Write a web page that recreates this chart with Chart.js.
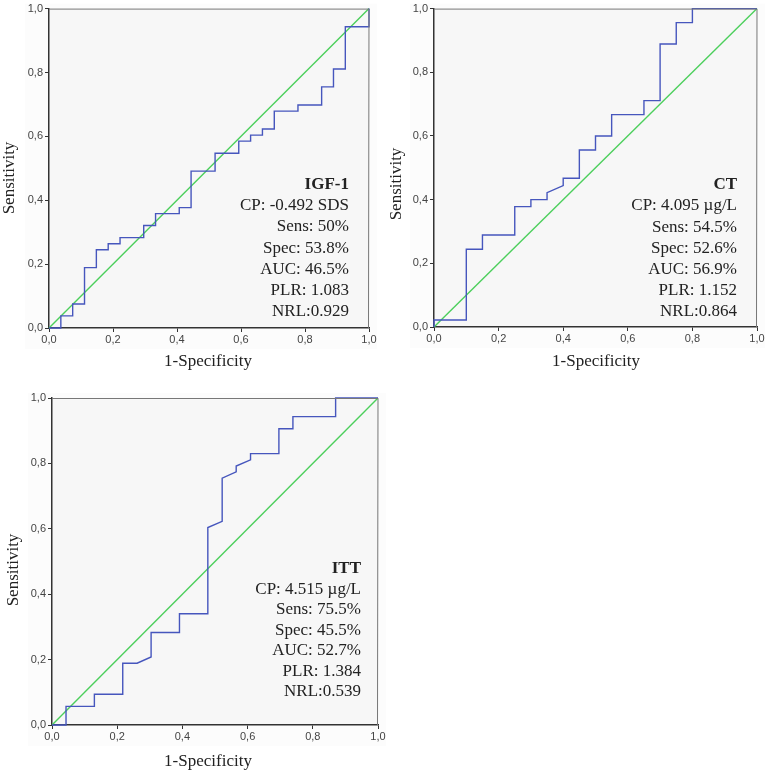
<!DOCTYPE html>
<html>
<head>
<meta charset="utf-8">
<script src="https://cdn.jsdelivr.net/npm/chart.js@4"></script>
<style>
  body { margin: 0; background: #fff; }
  #wrap { position: relative; width: 767px; height: 775px; }
  canvas { position: absolute; }
</style>
</head>
<body>
<div id="wrap">
  <canvas id="c1" style="left:0;top:0"></canvas>
  <canvas id="c2" style="left:385px;top:0"></canvas>
  <canvas id="c3" style="left:0;top:375px"></canvas>
</div>
<script>
// ROC curves, corner points (1-Specificity, Sensitivity)
const igfX = [0, 0.037, 0.037, 0.074, 0.074, 0.111, 0.111, 0.148, 0.148, 0.185, 0.185, 0.222, 0.222, 0.296, 0.296, 0.333, 0.333, 0.407, 0.407, 0.444, 0.444, 0.519, 0.519, 0.593, 0.593, 0.630, 0.630, 0.667, 0.667, 0.704, 0.704, 0.778, 0.778, 0.852, 0.852, 0.889, 0.889, 0.926, 0.926, 1, 1];
const igfY = [0, 0, 0.038, 0.038, 0.075, 0.075, 0.189, 0.189, 0.245, 0.245, 0.264, 0.264, 0.283, 0.283, 0.321, 0.321, 0.358, 0.358, 0.377, 0.377, 0.491, 0.491, 0.547, 0.547, 0.585, 0.585, 0.604, 0.604, 0.623, 0.623, 0.679, 0.679, 0.698, 0.698, 0.755, 0.755, 0.811, 0.811, 0.943, 0.943, 1];

const ctX = [0, 0, 0.1, 0.1, 0.15, 0.15, 0.25, 0.25, 0.3, 0.3, 0.35, 0.35, 0.4, 0.4, 0.45, 0.45, 0.5, 0.5, 0.55, 0.55, 0.65, 0.65, 0.7, 0.7, 0.75, 0.75, 0.8, 0.8, 1];
const ctY = [0, 0.022, 0.022, 0.244, 0.244, 0.289, 0.289, 0.378, 0.378, 0.4, 0.4, 0.422, 0.444, 0.467, 0.467, 0.556, 0.556, 0.6, 0.6, 0.667, 0.667, 0.711, 0.711, 0.889, 0.889, 0.956, 0.956, 1, 1];

const ittX = [0, 0.043, 0.043, 0.130, 0.130, 0.217, 0.217, 0.261, 0.304, 0.304, 0.391, 0.391, 0.478, 0.478, 0.522, 0.522, 0.565, 0.565, 0.609, 0.609, 0.696, 0.696, 0.739, 0.739, 0.870, 0.870, 1];
const ittY = [0, 0, 0.057, 0.057, 0.094, 0.094, 0.189, 0.189, 0.208, 0.283, 0.283, 0.340, 0.340, 0.604, 0.623, 0.755, 0.774, 0.792, 0.811, 0.830, 0.830, 0.906, 0.906, 0.943, 0.943, 1, 1];

// reference diagonal
const refX = [0, 1];
const refY = [0, 1];

const tickLabels = ["0,0", "0,2", "0,4", "0,6", "0,8", "1,0"];

const igfText = ["IGF-1", "CP: -0.492 SDS", "Sens: 50%", "Spec: 53.8%", "AUC: 46.5%", "PLR: 1.083", "NRL:0.929"];
const ctText = ["CT", "CP: 4.095 \u00b5g/L", "Sens: 54.5%", "Spec: 52.6%", "AUC: 56.9%", "PLR: 1.152", "NRL:0.864"];
const ittText = ["ITT", "CP: 4.515 \u00b5g/L", "Sens: 75.5%", "Spec: 45.5%", "AUC: 52.7%", "PLR: 1.384", "NRL:0.539"];

const serif = '"Liberation Serif", "Times New Roman", serif';
const sans = '"Liberation Sans", Arial, sans-serif';

function toPoints(xs, ys) {
  let pts = [];
  for (let i = 0; i < xs.length; i++) {
    pts.push({ x: xs[i], y: ys[i] });
  }
  return pts;
}

// background, frame, axis titles and the stats text
const rocPlugin = {
  id: "roc",
  beforeDraw(chart, args, o) {
    const c = chart.ctx, a = chart.chartArea;
    c.save();
    c.fillStyle = "#fcfcfc";
    c.fillRect(a.left - 24, a.top - 5, a.right - a.left + 32, a.bottom - a.top + 26);
    c.fillStyle = "#f7f7f7";
    c.fillRect(a.left, a.top, a.right - a.left, a.bottom - a.top);
    c.restore();
  },
  afterDraw(chart, args, o) {
    const c = chart.ctx, a = chart.chartArea;
    c.save();
    c.strokeStyle = "#777";
    c.lineWidth = 1;
    c.beginPath();
    c.moveTo(a.left, a.top + 0.5);
    c.lineTo(a.right, a.top + 0.5);
    c.lineTo(a.right - 0.5, a.bottom);
    c.stroke();

    c.fillStyle = "#222";
    c.font = "17px " + serif;
    c.textAlign = "center";
    c.textBaseline = "middle";
    c.fillText("1-Specificity", o.xTitle[0], o.xTitle[1]);
    c.save();
    c.translate(o.yTitle[0], o.yTitle[1]);
    c.rotate(-Math.PI / 2);
    c.fillText("Sensitivity", 0, 0);
    c.restore();

    c.textAlign = "right";
    for (let i = 0; i < o.lines.length; i++) {
      c.font = (i == 0 ? "bold " : "") + "17px " + serif;
      let y = o.textBottom - (o.lines.length - 1 - i) * o.gap;
      c.fillText(o.lines[i], o.textRight, y);
    }
    c.restore();
  }
};

function makeChart(id, w, h, xs, ys, lay) {
  const cv = document.getElementById(id);
  cv.width = w; cv.height = h;
  cv.style.width = w + "px"; cv.style.height = h + "px";

  const axis = {
    min: 0, max: 1,
    border: { display: true, color: "#333", width: 1.5 },
    grid: { drawOnChartArea: false, tickLength: 4, color: "#333" },
    ticks: {
      stepSize: 0.2, autoSkip: false, color: "#444",
      font: { family: sans, size: 11 },
      callback: (v, i) => tickLabels[i]
    }
  };

  return new Chart(cv, {
    type: "scatter",
    data: {
      datasets: [{
        data: toPoints(xs, ys),
        showLine: true,
        borderColor: "#4656bd",
        borderWidth: 1.4,
        pointRadius: 0,
        clip: 3
      }, {
        data: toPoints(refX, refY),
        showLine: true,
        borderColor: "#4ccf5c",
        borderWidth: 1.4,
        pointRadius: 0,
        clip: 3
      }]
    },
    options: {
      responsive: false,
      animation: false,
      layout: { padding: { top: lay.top, right: lay.right, left: 0, bottom: 0 } },
      plugins: {
        legend: { display: false },
        tooltip: { enabled: false },
        roc: lay.roc
      },
      scales: {
        x: Object.assign({}, axis, {
          ticks: Object.assign({}, axis.ticks, { padding: 1, maxRotation: 0 }),
          afterFit: s => { s.height = lay.xh; }
        }),
        y: Object.assign({}, axis, {
          ticks: Object.assign({}, axis.ticks, { padding: 2 }),
          afterFit: s => { s.width = lay.yw; }
        })
      }
    },
    plugins: [rocPlugin]
  });
}

makeChart("c1", 380, 375, igfX, igfY, {
  top: 5, right: 11, yw: 49, xh: 47,
  roc: { lines: igfText, xTitle: [208, 362], yTitle: [10, 178], textRight: 349, textBottom: 312, gap: 21.3 }
});
makeChart("c2", 382, 375, ctX, ctY, {
  top: 6, right: 10, yw: 49, xh: 48,
  roc: { lines: ctText, xTitle: [211, 362], yTitle: [12, 184], textRight: 352, textBottom: 312, gap: 21.2 }
});
makeChart("c3", 400, 400, ittX, ittY, {
  top: 23, right: 22, yw: 52, xh: 50,
  roc: { lines: ittText, xTitle: [208, 387], yTitle: [14, 195], textRight: 361, textBottom: 317, gap: 20.5 }
});
</script>
</body>
</html>
